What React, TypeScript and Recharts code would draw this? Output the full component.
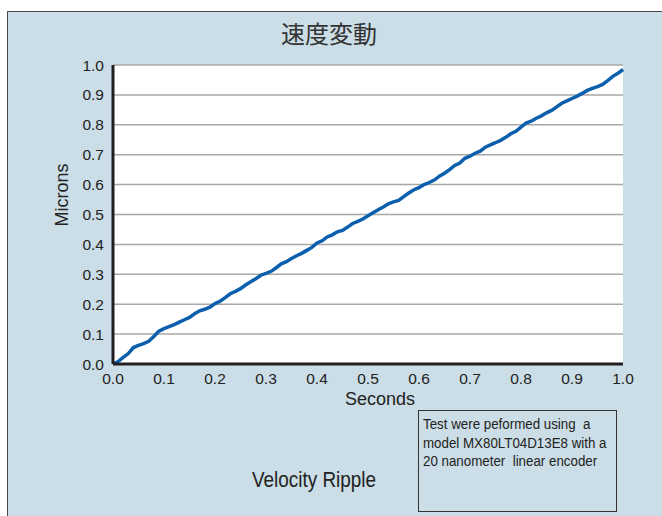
import React from 'react';
import { LineChart, Line, XAxis, YAxis, CartesianGrid } from 'recharts';

// time in seconds, 0.01 s steps
const seconds = [
  0.0, 0.01, 0.02, 0.03, 0.04, 0.05, 0.06, 0.07, 0.08, 0.09,
  0.1, 0.11, 0.12, 0.13, 0.14, 0.15, 0.16, 0.17, 0.18, 0.19,
  0.2, 0.21, 0.22, 0.23, 0.24, 0.25, 0.26, 0.27, 0.28, 0.29,
  0.3, 0.31, 0.32, 0.33, 0.34, 0.35, 0.36, 0.37, 0.38, 0.39,
  0.4, 0.41, 0.42, 0.43, 0.44, 0.45, 0.46, 0.47, 0.48, 0.49,
  0.5, 0.51, 0.52, 0.53, 0.54, 0.55, 0.56, 0.57, 0.58, 0.59,
  0.6, 0.61, 0.62, 0.63, 0.64, 0.65, 0.66, 0.67, 0.68, 0.69,
  0.7, 0.71, 0.72, 0.73, 0.74, 0.75, 0.76, 0.77, 0.78, 0.79,
  0.8, 0.81, 0.82, 0.83, 0.84, 0.85, 0.86, 0.87, 0.88, 0.89,
  0.9, 0.91, 0.92, 0.93, 0.94, 0.95, 0.96, 0.97, 0.98, 0.99,
  1.0,
];

// measured position in microns
const microns = [
  0.0, 0.008, 0.022, 0.035, 0.055, 0.062, 0.068, 0.076, 0.092, 0.11,
  0.118, 0.125, 0.132, 0.14, 0.148, 0.156, 0.168, 0.178, 0.183, 0.19,
  0.202, 0.21, 0.222, 0.235, 0.243, 0.252, 0.264, 0.275, 0.285, 0.297,
  0.303, 0.31, 0.322, 0.335, 0.342, 0.353, 0.362, 0.37, 0.38, 0.39,
  0.405, 0.412, 0.425, 0.432, 0.442, 0.447, 0.458, 0.47, 0.477, 0.485,
  0.496, 0.506, 0.516, 0.525, 0.536, 0.542, 0.547, 0.56, 0.572, 0.583,
  0.59, 0.6, 0.607, 0.615, 0.628, 0.638, 0.65, 0.664, 0.672, 0.688,
  0.695, 0.705, 0.712, 0.725, 0.733, 0.74, 0.748, 0.758, 0.77, 0.778,
  0.792, 0.806, 0.812, 0.822, 0.83, 0.84, 0.848, 0.86, 0.872, 0.88,
  0.888, 0.896, 0.905, 0.915, 0.922, 0.928, 0.935, 0.948, 0.962, 0.972,
  0.985,
];

const ticks = [0, 0.1, 0.2, 0.3, 0.4, 0.5, 0.6, 0.7, 0.8, 0.9, 1.0];

const data = seconds.map((t, i) => ({ t, y: microns[i] }));

const font = '"Liberation Sans", Arial, sans-serif';

export default function App() {
  return (
    <div style={{ position: 'absolute', left: 0, top: 0, width: 662, height: 516, overflow: 'hidden', background: '#fff' }}>
      <div
        style={{
          position: 'absolute',
          left: 7,
          top: 11,
          width: 700,
          height: 540,
          background: '#cbdde6',
          border: '1px solid #4a4a4a',
        }}
      />
      <div
        style={{
          position: 'absolute',
          left: 0,
          width: 658,
          top: 17,
          textAlign: 'center',
          fontFamily: '"Noto Sans CJK JP", sans-serif',
          fontSize: 24,
          color: '#333',
          lineHeight: '32px',
        }}
      >
        速度変動
      </div>
      <div style={{ position: 'absolute', left: 0, top: 0 }}>
        <LineChart width={662} height={516} data={data} margin={{ top: 65, right: 39, bottom: 112, left: 0 }}>
          <CartesianGrid horizontal vertical={false} stroke="#a8a8a8" strokeWidth={1.5} fill="#fff" />
          <XAxis
            dataKey="t"
            type="number"
            domain={[0, 1]}
            ticks={ticks}
            tickFormatter={(v: number) => v.toFixed(1)}
            axisLine={{ stroke: '#231f20', strokeWidth: 3 }}
            tickLine={false}
            tickSize={0}
            tickMargin={9}
            height={40}
            tick={{ fill: '#222', fontSize: 15.5, fontFamily: font }}
            interval={0}
          />
          <XAxis xAxisId="top" orientation="top" dataKey="t" type="number" domain={[0, 1]} tick={false} tickLine={false} height={0} axisLine={{ stroke: '#231f20', strokeWidth: 3 }} />
          <YAxis
            type="number"
            domain={[0, 1]}
            ticks={ticks}
            tickFormatter={(v: number) => v.toFixed(1)}
            axisLine={{ stroke: '#231f20', strokeWidth: 3 }}
            tickLine={false}
            tickSize={0}
            tickMargin={9}
            width={113}
            tick={{ fill: '#222', fontSize: 15.5, fontFamily: font }}
            interval={0}
          />
          <YAxis yAxisId="right" orientation="right" type="number" domain={[0, 1]} tick={false} tickLine={false} width={0} axisLine={{ stroke: '#231f20', strokeWidth: 3 }} />
          <Line
            dataKey="y"
            type="linear"
            stroke="#0b5fac"
            strokeWidth={3.5}
            dot={false}
            isAnimationActive={false}
          />
        </LineChart>
      </div>
      <div
        style={{
          position: 'absolute',
          left: 280,
          width: 200,
          top: 388,
          textAlign: 'center',
          fontFamily: font,
          fontSize: 18,
          color: '#222',
          lineHeight: '22px',
        }}
      >
        Seconds
      </div>
      <div
        style={{
          position: 'absolute',
          left: 12,
          top: 184,
          width: 100,
          textAlign: 'center',
          fontFamily: font,
          fontSize: 18,
          color: '#222',
          lineHeight: '22px',
          transform: 'rotate(-90deg)',
        }}
      >
        Microns
      </div>
      <div
        style={{
          position: 'absolute',
          left: 214,
          width: 200,
          top: 466,
          textAlign: 'center',
          fontFamily: font,
          fontSize: 22,
          color: '#222',
          lineHeight: '28px',
          transform: 'scaleX(0.86)',
        }}
      >
        Velocity Ripple
      </div>
      <div
        style={{
          position: 'absolute',
          left: 418,
          top: 410,
          width: 199,
          height: 102,
          border: '1px solid #333',
          boxSizing: 'border-box',
        }}
      />
      <div
        style={{
          position: 'absolute',
          left: 423,
          top: 415,
          fontFamily: font,
          fontSize: 15.5,
          color: '#222',
          lineHeight: '18.5px',
          whiteSpace: 'pre',
          transform: 'scaleX(0.86)',
          transformOrigin: 'left top',
        }}
      >
        {'Test were peformed using  a\nmodel MX80LT04D13E8 with a\n20 nanometer  linear encoder'}
      </div>
    </div>
  );
}
